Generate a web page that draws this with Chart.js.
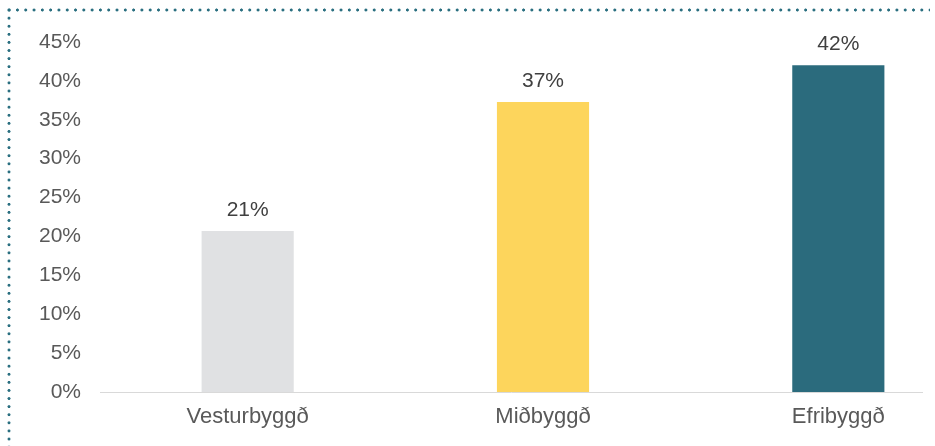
<!DOCTYPE html>
<html>
<head>
<meta charset="utf-8">
<script src="https://cdn.jsdelivr.net/npm/chart.js@4"></script>
<style>
  html, body { margin: 0; padding: 0; background: #fff; }
  #wrap { position: relative; width: 935px; height: 446px; overflow: hidden; }
  #box { position: absolute; left: 0; top: 0; width: 986px; height: 446px; }
  .dots-top {
    position: absolute; left: 5px; top: 6px; width: 925px; height: 8px;
    background-image: radial-gradient(circle, #2a6f80 1.3px, transparent 1.8px);
    background-size: 8.3px 8px; background-repeat: repeat-x;
  }
  .dots-left {
    position: absolute; left: 5px; top: 6px; width: 8px; height: 440px;
    background-image: radial-gradient(circle, #2a6f80 1.3px, transparent 1.8px);
    background-size: 8px 8.1px; background-repeat: repeat-y;
  }
</style>
</head>
<body>
<div id="wrap">
  <div id="box"><canvas id="areaChart"></canvas></div>
  <div class="dots-top"></div>
  <div class="dots-left"></div>
</div>
<script>
// categories and share of each area (percent)
const areas = ["Vesturbyggð", "Miðbyggð", "Efribyggð"];
const shares = [20.7, 37.3, 42.0];
const barColors = ["#e0e1e3", "#fdd55c", "#2b6b7d"];

const yMax = 45;
const yStep = 5;

const textColor = "#595959";
const fontFamily = "'Liberation Sans', Arial, sans-serif";

// value above each bar + the base line (shorter than the wide plot area)
const valueLabels = {
    id: "valueLabels",
    beforeDatasetsDraw(chart) {
        const c = chart.ctx;
        const y0 = Math.round(chart.scales.y.getPixelForValue(0)) + 0.5;
        c.save();
        c.strokeStyle = "#d9d9d9";
        c.lineWidth = 1;
        c.beginPath();
        c.moveTo(chart.chartArea.left, y0);
        c.lineTo(chart.chartArea.left + 823, y0);
        c.stroke();
        c.restore();
    },
    afterDatasetsDraw(chart) {
        const c = chart.ctx;
        const meta = chart.getDatasetMeta(0);
        c.save();
        c.font = "21px " + fontFamily;
        c.fillStyle = "#404040";
        c.textAlign = "center";
        c.textBaseline = "alphabetic";
        meta.data.forEach((bar, i) => {
            c.fillText(Math.round(shares[i]) + "%", bar.x, bar.y - 15);
        });
        c.restore();
    }
};

const ctx = document.getElementById("areaChart").getContext("2d");

new Chart(ctx, {
    type: "bar",
    data: {
        labels: areas,
        datasets: [{
            data: shares,
            backgroundColor: barColors,
            borderWidth: 0,
            categoryPercentage: 1,
            barPercentage: 0.312
        }]
    },
    options: {
        responsive: true,
        maintainAspectRatio: false,
        animation: false,
        layout: { padding: { top: 42, left: 0, right: 0, bottom: 0 } },
        plugins: {
            legend: { display: false },
            tooltip: { enabled: false }
        },
        scales: {
            x: {
                grid: { display: false },
                border: { display: false },
                ticks: {
                    color: textColor,
                    padding: 4,
                    font: { family: fontFamily, size: 22 }
                },
                afterFit: (scale) => { scale.height = 54; }
            },
            y: {
                min: 0,
                max: yMax,
                grid: { display: false, drawTicks: false },
                border: { display: false },
                ticks: {
                    stepSize: yStep,
                    padding: 19,
                    color: textColor,
                    font: { family: fontFamily, size: 21 },
                    callback: (v) => v + "%"
                },
                afterFit: (scale) => { scale.width = 100; }
            }
        }
    },
    plugins: [valueLabels]
});
</script>
</body>
</html>
